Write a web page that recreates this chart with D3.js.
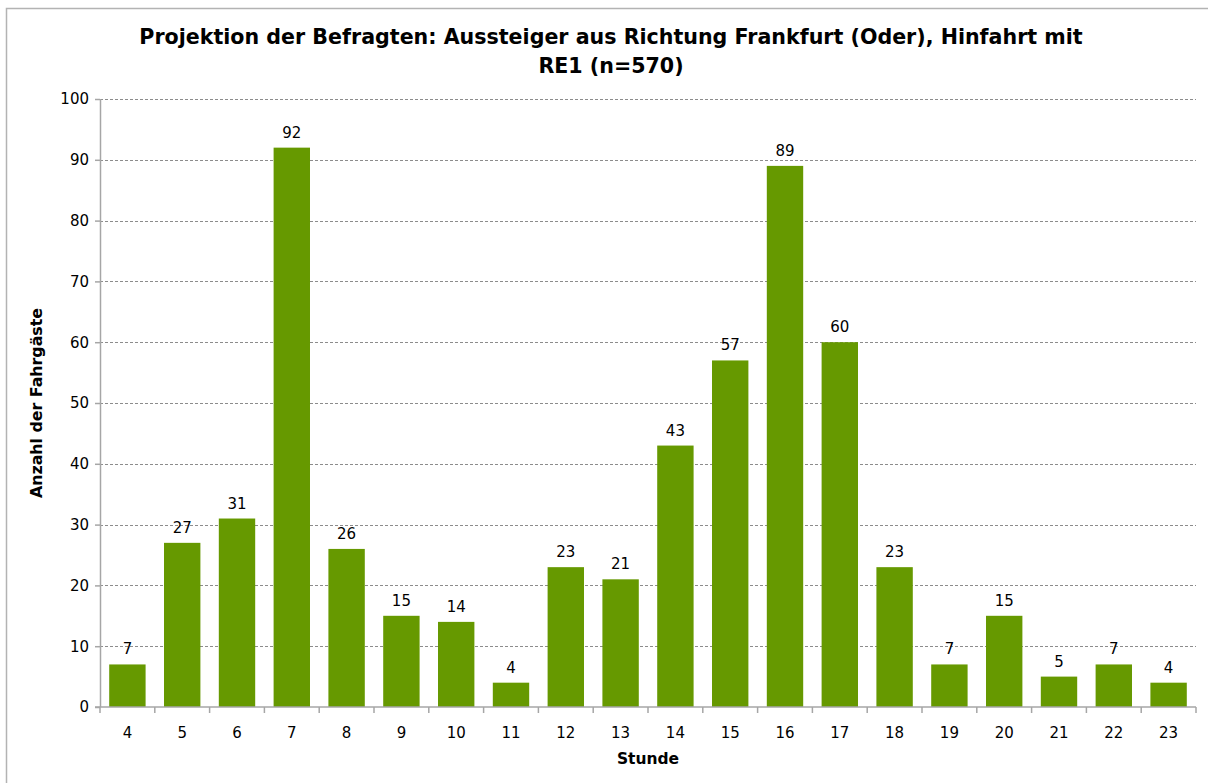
<!DOCTYPE html>
<html>
<head>
<meta charset="utf-8">
<script src="https://cdn.jsdelivr.net/npm/d3@7"></script>
<style>
  body { margin: 0; background: #fff; }
  text { font-family: "DejaVu Sans", Verdana, sans-serif; }
</style>
</head>
<body>
<div id="chart"></div>
<script>
// data
const stunden = ["4","5","6","7","8","9","10","11","12","13","14","15","16","17","18","19","20","21","22","23"];
const fahrgaeste = [7,27,31,92,26,15,14,4,23,21,43,57,89,60,23,7,15,5,7,4];
const yTicks = [0,10,20,30,40,50,60,70,80,90,100];

const titel1 = "Projektion der Befragten: Aussteiger aus Richtung Frankfurt (Oder), Hinfahrt mit";
const titel2 = "RE1 (n=570)";

const width = 1208, height = 783;
const margin = {top: 99, right: 12, bottom: 76, left: 100};

const svg = d3.select("#chart").append("svg")
    .attr("width", width)
    .attr("height", height);

// outer frame
svg.append("rect")
    .attr("x", 6.5).attr("y", 8.5)
    .attr("width", width + 20).attr("height", height + 20)
    .attr("fill", "none")
    .attr("stroke", "#b3b3b3")
    .attr("stroke-width", 1.5);

const x = d3.scaleBand()
    .domain(stunden)
    .range([margin.left, width - margin.right])
    .paddingInner(0.336)
    .paddingOuter(0.168);

const y = d3.scaleLinear()
    .domain([0, 100])
    .range([height - margin.bottom, margin.top]);

// gridlines
svg.append("g")
    .selectAll("line")
    .data(yTicks.filter(d => d > 0))
    .join("line")
    .attr("x1", margin.left).attr("x2", width - margin.right)
    .attr("y1", d => Math.round(y(d)) + 0.5).attr("y2", d => Math.round(y(d)) + 0.5)
    .attr("stroke", "#8c8c8c")
    .attr("stroke-dasharray", "3,2");

// bars
svg.append("g")
    .selectAll("rect")
    .data(fahrgaeste)
    .join("rect")
    .attr("x", (d, i) => x(stunden[i]))
    .attr("y", d => y(d))
    .attr("width", x.bandwidth())
    .attr("height", d => y(0) - y(d))
    .attr("fill", "#669900");

// data labels
svg.append("g")
    .selectAll("text")
    .data(fahrgaeste)
    .join("text")
    .attr("x", (d, i) => x(stunden[i]) + x.bandwidth() / 2)
    .attr("y", d => y(d) - 10)
    .attr("text-anchor", "middle")
    .style("font-size", "15px")
    .attr("fill", "#000")
    .text(d => d);

// y axis
const yAxis = svg.append("g")
    .attr("transform", `translate(${margin.left},0)`)
    .call(d3.axisLeft(y).tickValues(yTicks).tickSize(5).tickPadding(6));
yAxis.selectAll("text").style("font-size", "15px").attr("fill", "#000");
yAxis.selectAll("line, path").attr("stroke", "#a6a6a6").attr("stroke-width", 1.5);
yAxis.select("path").attr("d", `M0.5,${y(0)}V${y(100)}`);

// x axis: ticks at category boundaries
const xg = svg.append("g")
    .attr("transform", `translate(0,${y(0)})`);
xg.append("line")
    .attr("x1", margin.left - 5).attr("x2", width - margin.right)
    .attr("stroke", "#a6a6a6").attr("stroke-width", 1.5);
const step = x.step();
const grenzen = d3.range(stunden.length + 1).map(i => margin.left + i * step);
xg.selectAll("line.tick")
    .data(grenzen)
    .join("line")
    .attr("class", "tick")
    .attr("x1", d => d).attr("x2", d => d)
    .attr("y1", 0).attr("y2", 6)
    .attr("stroke", "#a6a6a6").attr("stroke-width", 1.5);
xg.selectAll("text")
    .data(stunden)
    .join("text")
    .attr("x", d => x(d) + x.bandwidth() / 2)
    .attr("y", 31)
    .attr("text-anchor", "middle")
    .style("font-size", "15px")
    .text(d => d);

// titles
svg.append("text")
    .attr("x", 611).attr("y", 44)
    .attr("text-anchor", "middle")
    .style("font-size", "20.6px").style("font-weight", "bold")
    .text(titel1);
svg.append("text")
    .attr("x", 611).attr("y", 73)
    .attr("text-anchor", "middle")
    .style("font-size", "20.6px").style("font-weight", "bold")
    .text(titel2);

svg.append("text")
    .attr("x", (margin.left + width - margin.right) / 2)
    .attr("y", 764)
    .attr("text-anchor", "middle")
    .style("font-size", "15.5px").style("font-weight", "bold")
    .text("Stunde");

svg.append("text")
    .attr("transform", `translate(42,${(y(0) + y(100)) / 2}) rotate(-90)`)
    .attr("text-anchor", "middle")
    .style("font-size", "15.8px").style("font-weight", "bold")
    .text("Anzahl der Fahrgäste");
</script>
</body>
</html>
